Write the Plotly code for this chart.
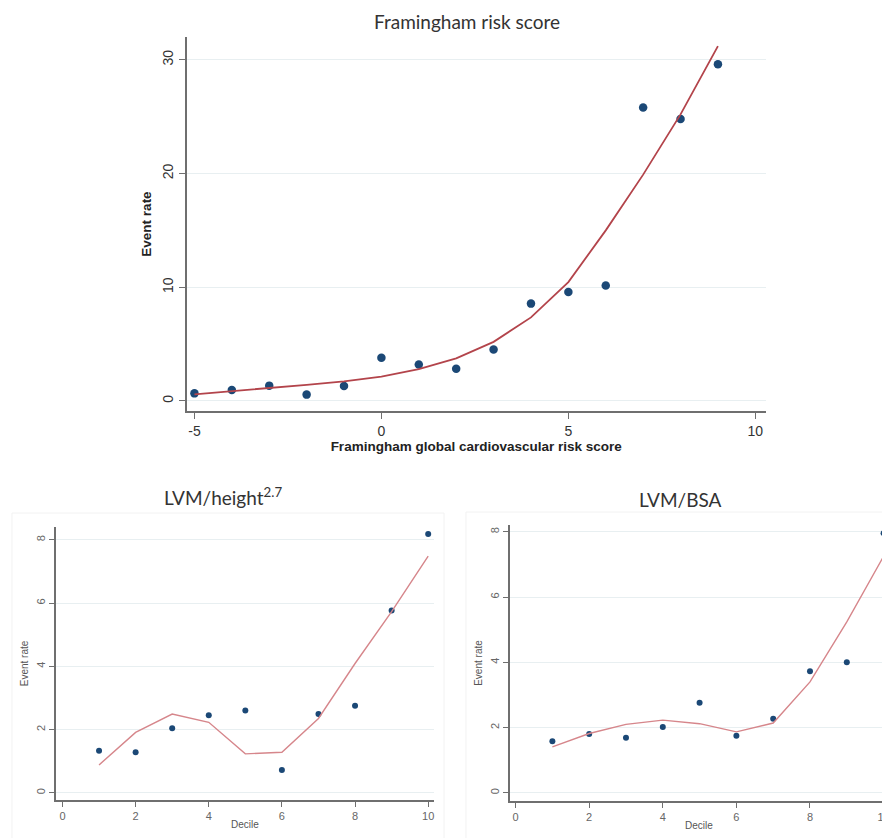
import plotly.graph_objects as go

# ---- data ----
fram_x = [-5, -4, -3, -2, -1, 0, 1, 2, 3, 4, 5, 6, 7, 8, 9]
fram_rate = [0.67, 0.97, 1.35, 0.56, 1.32, 3.81, 3.2, 2.84, 4.52, 8.56, 9.59, 10.15, 25.8, 24.8, 29.6]
fram_fit = [0.59, 0.85, 1.12, 1.42, 1.72, 2.15, 2.8, 3.75, 5.2, 7.35, 10.45, 15.0, 19.9, 25.2, 31.2]

decile = [1, 2, 3, 4, 5, 6, 7, 8, 9, 10]
lvmh_rate = [1.33, 1.28, 2.04, 2.45, 2.60, 0.72, 2.49, 2.75, 5.77, 8.19]
lvmh_fit = [0.88, 1.91, 2.49, 2.23, 1.23, 1.28, 2.35, 4.09, 5.73, 7.49]
lvmb_rate = [1.58, 1.80, 1.69, 2.02, 2.76, 1.75, 2.27, 3.73, 4.00, 7.96]
lvmb_fit = [1.41, 1.82, 2.10, 2.23, 2.12, 1.87, 2.14, 3.40, 5.24, 7.25]

top_ticks_x = [-5, 0, 5, 10]
top_ticklabels_x = ["-5", "0", "5", "10"]
top_ticks_y = [0, 10, 20, 30]
bot_ticks_x = [0, 2, 4, 6, 8, 10]
bot_ticks_y = [0, 2, 4, 6, 8]

W, H = 890, 838
OFF = 8  # browser default body margin
MARK = "#1b4876"
LINE_TOP = "#b3444b"
LINE_BOT = "#d6868b"
GRID = "#e8eff1"
AXC = "#6f6f6f"

fig = go.Figure()
fig.add_trace(go.Scatter(x=fram_x, y=fram_rate, mode="markers",
                         marker=dict(color=MARK, size=8.5), xaxis="x", yaxis="y", showlegend=False))
fig.add_trace(go.Scatter(x=fram_x, y=fram_fit, mode="lines",
                         line=dict(color=LINE_TOP, width=1.8), xaxis="x", yaxis="y", showlegend=False))
fig.add_trace(go.Scatter(x=decile, y=lvmh_rate, mode="markers",
                         marker=dict(color=MARK, size=6), xaxis="x2", yaxis="y2", showlegend=False))
fig.add_trace(go.Scatter(x=decile, y=lvmh_fit, mode="lines",
                         line=dict(color=LINE_BOT, width=1.4), xaxis="x2", yaxis="y2", showlegend=False))
fig.add_trace(go.Scatter(x=decile, y=lvmb_rate, mode="markers", cliponaxis=False,
                         marker=dict(color=MARK, size=6), xaxis="x3", yaxis="y3", showlegend=False))
fig.add_trace(go.Scatter(x=decile, y=lvmb_fit, mode="lines",
                         line=dict(color=LINE_BOT, width=1.4), xaxis="x3", yaxis="y3", showlegend=False))


def px(x):
    return (x - OFF) / W


def py(y):
    return 1 - (y - OFF) / H


def dx(a, b):
    return [px(a), min(1.0, px(b))]


def dy(top, bottom):
    return [py(bottom), py(top)]


tick_top = dict(family="Liberation Sans, Arial", size=14, color="#333")
tick_bot = dict(family="Liberation Sans, Arial", size=11, color="#666")

common = dict(showline=True, linecolor=AXC, linewidth=1.5, ticks="outside",
              tickcolor=AXC, zeroline=False, mirror=False)

fig.update_layout(
    width=W, height=H, margin=dict(l=0, r=0, t=0, b=0),
    paper_bgcolor="white", plot_bgcolor="white",
    xaxis=dict(domain=dx(187, 767.5), range=[-5.21, 10.28], tickvals=top_ticks_x,
               ticktext=top_ticklabels_x,
               ticklen=6, tickfont=tick_top, showgrid=False, anchor="y",
               title=dict(text="<b>Framingham global cardiovascular risk score</b>",
                          font=dict(family="Liberation Sans, Arial", size=13.5, color="#222"),
                          standoff=1),
               **common),
    yaxis=dict(domain=dy(37, 411), range=[-0.88, 32.0], tickvals=top_ticks_y,
               ticklen=6, tickfont=tick_top, tickangle=-90, showgrid=True, gridcolor=GRID,
               anchor="x",
               title=dict(text="<b>Event rate</b>",
                          font=dict(family="Liberation Sans, Arial", size=13.5, color="#222"),
                          standoff=6),
               **common),
    xaxis2=dict(domain=dx(56, 435), range=[-0.18, 10.16], tickvals=bot_ticks_x,
                ticklen=5, tickfont=tick_bot, showgrid=False, anchor="y2",
                title=dict(text="Decile", font=dict(family="Liberation Sans, Arial", size=10, color="#555"),
                           standoff=0),
                **common),
    yaxis2=dict(domain=dy(527, 800), range=[-0.23, 8.41], tickvals=bot_ticks_y,
                ticklen=5, tickfont=tick_bot, tickangle=-90, showgrid=True, gridcolor=GRID,
                anchor="x2",
                title=dict(text="Event rate", font=dict(family="Liberation Sans, Arial", size=10, color="#555"),
                           standoff=4),
                **common),
    xaxis3=dict(domain=dx(511, 890), range=[-0.155, 10.12], tickvals=bot_ticks_x,
                ticklen=5, tickfont=tick_bot, showgrid=False, anchor="y3",
                title=dict(text="Decile", font=dict(family="Liberation Sans, Arial", size=10, color="#555"),
                           standoff=0),
                **common),
    yaxis3=dict(domain=dy(525, 801), range=[-0.25, 8.21], tickvals=bot_ticks_y,
                ticklen=5, tickfont=tick_bot, tickangle=-90, showgrid=True, gridcolor=GRID,
                anchor="x3",
                title=dict(text="Event rate", font=dict(family="Liberation Sans, Arial", size=10, color="#555"),
                           standoff=4),
                **common),
)

title_font = dict(family="Lato, Open Sans", size=19, color="#333")
fig.add_annotation(text="Framingham risk score", x=px(468), y=py(21), xref="paper", yref="paper",
                   showarrow=False, font=title_font, xanchor="center", yanchor="middle")
fig.add_annotation(text="LVM/height<sup>2.7</sup>", x=px(223), y=py(497), xref="paper", yref="paper",
                   showarrow=False, font=title_font, xanchor="center", yanchor="middle")
fig.add_annotation(text="LVM/BSA", x=px(682), y=py(499), xref="paper", yref="paper",
                   showarrow=False, font=title_font, xanchor="center", yanchor="middle")

# faint panel frames of the lower graphs
fig.add_shape(type="rect", xref="paper", yref="paper", x0=px(12), x1=px(445), y0=-0.01, y1=py(513),
              line=dict(color="#f2f2f2", width=1), layer="below")
fig.add_shape(type="rect", xref="paper", yref="paper", x0=px(467), x1=1.01, y0=-0.01, y1=py(512),
              line=dict(color="#f2f2f2", width=1), layer="below")

fig.write_html("out.html")
